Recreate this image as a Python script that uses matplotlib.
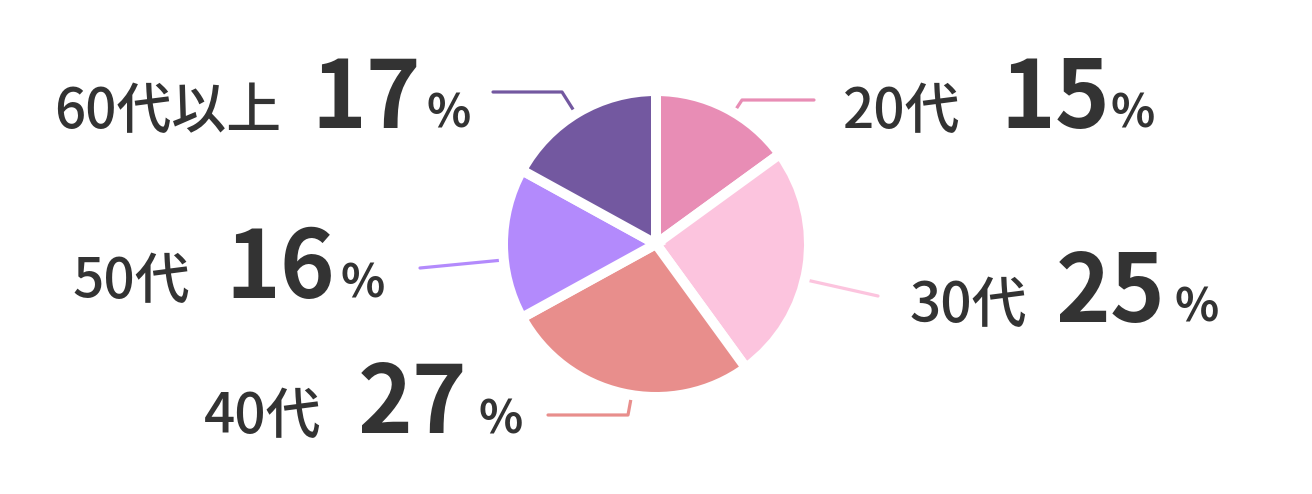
import numpy as np
import matplotlib
matplotlib.use("Agg")
import matplotlib.pyplot as plt

# data
labels = ["20代", "30代", "40代", "50代", "60代以上"]
values = [15, 25, 27, 16, 17]
colors = ["#e88db5", "#fcc4de", "#e88e8c", "#b38afc", "#7358a0"]

W, H = 1312, 494
fig = plt.figure(figsize=(W / 100, H / 100), dpi=100)
ax = fig.add_axes([0, 0, 1, 1])

cx, cy, R = 656, H - 244, 153
wedges, _ = ax.pie(values, colors=colors, startangle=90, counterclock=False,
                   center=(cx, cy), radius=R,
                   wedgeprops=dict(edgecolor="white", linewidth=7.2))
for w in wedges:
    w.set_zorder(3)
ax.set_xlim(0, W)
ax.set_ylim(0, H)
ax.set_aspect("equal")
ax.axis("off")

# leader lines: angle tweak from wedge middle, then bends/ends (px, y from top)
angle_shift = [-3.5, -4.5, 3.5, 6, 1]
leaders = [
    [(742, 100), (814, 100)],
    [(878, 296)],
    [(628, 415), (548, 415)],
    [(420, 268)],
    [(562, 92), (493, 92)],
]
# (label x, number x, percent x, baseline y)
text_pos = [
    (843, 1000, 1110, 128),
    (910, 1056, 1175, 322),
    (204, 358, 478, 433),
    (72, 225, 340, 298),
    (54, 311, 427, 128),
]

font = ["Noto Sans CJK JP", "DejaVu Sans"]
tc = "#333333"
for w, lab, v, col, da, pts, tp in zip(wedges, labels, values, colors,
                                        angle_shift, leaders, text_pos):
    mid = np.deg2rad((w.theta1 + w.theta2) / 2 + da)
    sx = cx + (R - 6) * np.cos(mid)
    sy = cy + (R - 6) * np.sin(mid)
    xs = [sx] + [p[0] for p in pts]
    ys = [sy] + [H - p[1] for p in pts]
    ax.plot(xs, ys, color=col, lw=2.3, zorder=2, solid_capstyle="round")

    lx, nx, px, by = tp
    ax.text(lx, H - by, lab, fontsize=39.5, fontweight="medium", family=font,
            color=tc, ha="left", va="baseline")
    ax.text(nx, H - by, str(v), fontsize=67, fontweight="bold", family=font,
            color=tc, ha="left", va="baseline")
    ax.text(px, H - by, "%", fontsize=33, fontweight="bold", family=font,
            color=tc, ha="left", va="baseline")

fig.savefig("out.png", dpi=100, facecolor="white")
